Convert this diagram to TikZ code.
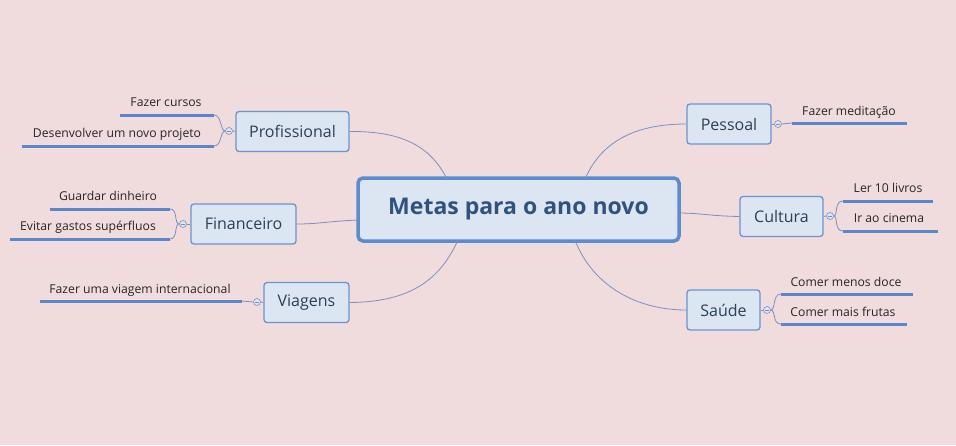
\documentclass[tikz,border=0pt]{standalone}
\usepackage{fontspec}
\setmainfont{Open Sans}
\definecolor{bg}{HTML}{F0DCDC}
\definecolor{boxfill}{HTML}{DCE6F2}
\definecolor{boxdraw}{HTML}{6A94CF}
\definecolor{mainborder}{HTML}{5B8BD0}
\definecolor{maintext}{HTML}{2F527E}
\definecolor{topictext}{HTML}{2B3F57}
\definecolor{conn}{HTML}{7D8FC0}
\definecolor{leafline}{HTML}{5B87C9}
\begin{document}
\begin{tikzpicture}[x=1pt,y=-1pt,
  central/.style={draw=mainborder,line width=3.5pt,fill=boxfill,rounded corners=5pt,
     minimum width=321pt,minimum height=63pt,inner sep=0pt,
     font=\fontsize{23}{27}\selectfont\bfseries,text=maintext},
  topic/.style={draw=boxdraw,line width=1.3pt,fill=boxfill,rounded corners=3pt,
     minimum height=40pt,inner sep=0pt,font=\fontsize{16}{19}\selectfont,text=topictext},
  leaftext/.style={font=\fontsize{12.2}{14}\selectfont,text=black!85,inner sep=0pt},
  leaf/.style={draw=leafline,line width=3pt},
  conline/.style={draw=conn,line width=0.8pt},
  coll/.style={circle,draw=conn,fill=boxfill,line width=0.6pt,minimum size=7pt,inner sep=0pt}
]
\fill[bg] (0,0) rectangle (956,445);
\useasboundingbox (0,0) rectangle (956,445);

% central
\node[central] (c) at (518.5,209.5) {Metas para o ano novo};

% topics
\node[topic,minimum width=113pt] (prof) at (292.5,131.5) {Profissional};
\node[topic,minimum width=105pt] (fin) at (243.5,224) {Financeiro};
\node[topic,minimum width=85pt] (via) at (306.5,302.5) {Viagens};
\node[topic,minimum width=84pt] (pes) at (729,124) {Pessoal};
\node[topic,minimum width=83pt] (cul) at (781.5,216.5) {Cultura};
\node[topic,minimum width=73pt] (sau) at (723.5,310) {Saúde};

% main connectors
\coordinate (cprof) at (447,179);
\coordinate (cfin) at (359,220);
\coordinate (cvia) at (458,240);
\coordinate (cpes) at (585,179);
\coordinate (ccul) at (678,213);
\coordinate (csau) at (575,240);
\draw[conline] (prof.east) .. controls (400,131) and (430,145) .. (cprof);
\draw[conline] (fin.east) .. controls (320,224) and (330,221) .. (cfin);
\draw[conline] (via.east) .. controls (410,302) and (440,280) .. (cvia);
\draw[conline] (pes.west) .. controls (630,124) and (600,145) .. (cpes);
\draw[conline] (cul.west) .. controls (710,216) and (700,213) .. (ccul);
\draw[conline] (sau.west) .. controls (630,310) and (590,280) .. (csau);

% collapse circles
\node[coll] (kprof) at (229,131) {};
\node[coll] (kfin) at (183,224) {};
\node[coll] (kvia) at (257,302) {};
\node[coll] (kpes) at (778,124) {};
\node[coll] (kcul) at (830,216) {};
\node[coll] (ksau) at (767,310) {};
\foreach \k in {kprof,kfin,kvia,kpes,kcul,ksau}{
  \draw[conn,line width=0.5pt] ([xshift=-2pt]\k.center) -- ([xshift=2pt]\k.center);
}
\draw[conline] (prof.west) -- (kprof.east);
\draw[conline] (fin.west) -- (kfin.east);
\draw[conline] (via.west) -- (kvia.east);
\draw[conline] (pes.east) -- (kpes.west);
\draw[conline] (cul.east) -- (kcul.west);
\draw[conline] (sau.east) -- (ksau.west);

% Profissional leaves
\coordinate (p1a) at (214,115); \coordinate (p1b) at (120,115);
\coordinate (p2a) at (214,146); \coordinate (p2b) at (22,146);
\draw[conline] (kprof.west) .. controls (220,131) and (222,115) .. (p1a);
\draw[conline] (kprof.west) .. controls (220,131) and (222,146) .. (p2a);
\draw[leaf] (p1a) -- (p1b);
\draw[leaf] (p2a) -- (p2b);
\node[leaftext,anchor=base] (t1) at (166,106) {Fazer cursos};
\node[leaftext,anchor=base] (t2) at (117,137) {Desenvolver um novo projeto};

% Financeiro leaves
\coordinate (f1a) at (170,209); \coordinate (f1b) at (50,209);
\coordinate (f2a) at (170,239); \coordinate (f2b) at (10,239);
\draw[conline] (kfin.west) .. controls (174,224) and (178,209) .. (f1a);
\draw[conline] (kfin.west) .. controls (174,224) and (178,239) .. (f2a);
\draw[leaf] (f1a) -- (f1b);
\draw[leaf] (f2a) -- (f2b);
\node[leaftext,anchor=base] (t3) at (108,200) {Guardar dinheiro};
\node[leaftext,anchor=base] (t4) at (88,230) {Evitar gastos supérfluos};

% Viagens leaf
\coordinate (v1a) at (242,301); \coordinate (v1b) at (40,301);
\draw[conline] (kvia.west) -- (v1a);
\draw[leaf] (v1a) -- (v1b);
\node[leaftext,anchor=base] (t5) at (140,293) {Fazer uma viagem internacional};

% Pessoal leaf
\coordinate (e1a) at (792,123); \coordinate (e1b) at (907,123);
\draw[conline] (kpes.east) -- (e1a);
\draw[leaf] (e1a) -- (e1b);
\node[leaftext,anchor=base] (t6) at (849,115) {Fazer meditação};

% Cultura leaves
\coordinate (u1a) at (843,201); \coordinate (u1b) at (933,201);
\coordinate (u2a) at (843,231); \coordinate (u2b) at (938,231);
\draw[conline] (kcul.east) .. controls (838,216) and (834,201) .. (u1a);
\draw[conline] (kcul.east) .. controls (838,216) and (834,231) .. (u2a);
\draw[leaf] (u1a) -- (u1b);
\draw[leaf] (u2a) -- (u2b);
\node[leaftext,anchor=base] (t7) at (888,192) {Ler 10 livros};
\node[leaftext,anchor=base] (t8) at (889,222) {Ir ao cinema};

% Saude leaves
\coordinate (s1a) at (781,294); \coordinate (s1b) at (913,294);
\coordinate (s2a) at (781,324); \coordinate (s2b) at (907,324);
\draw[conline] (ksau.east) .. controls (776,310) and (772,294) .. (s1a);
\draw[conline] (ksau.east) .. controls (776,310) and (772,324) .. (s2a);
\draw[leaf] (s1a) -- (s1b);
\draw[leaf] (s2a) -- (s2b);
\node[leaftext,anchor=base] (t9) at (846,286) {Comer menos doce};
\node[leaftext,anchor=base] (t10) at (843,316) {Comer mais frutas};
\end{tikzpicture}
\end{document}
